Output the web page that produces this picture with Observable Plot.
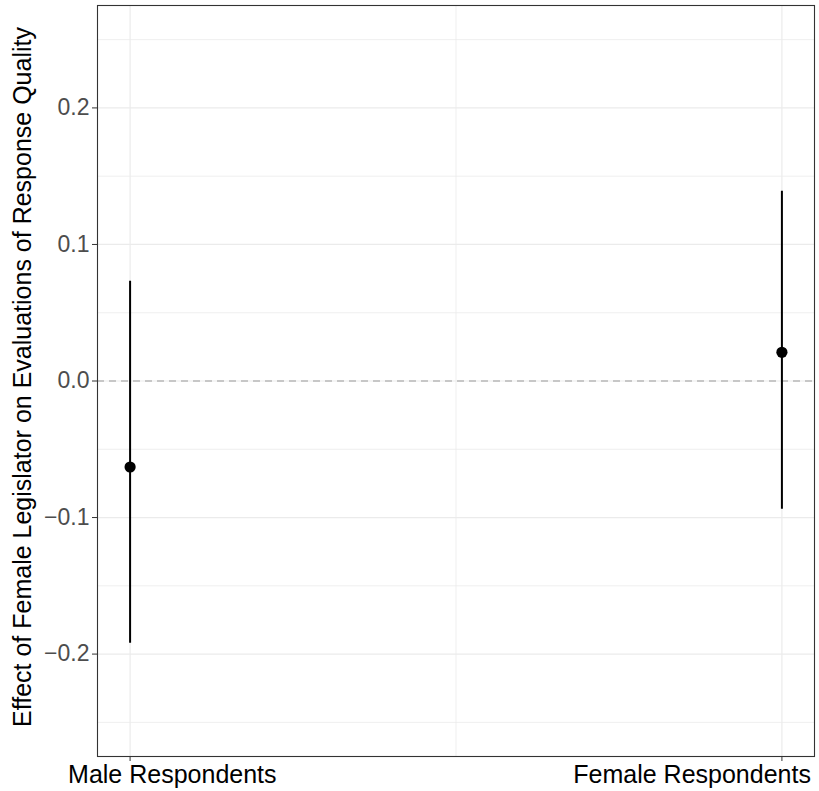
<!DOCTYPE html>
<html>
<head>
<meta charset="utf-8">
<script src="https://cdn.jsdelivr.net/npm/d3@7"></script>
<script src="https://cdn.jsdelivr.net/npm/@observablehq/plot@0.6"></script>
<style>
  html, body { margin: 0; padding: 0; background: #ffffff; }
  #chart { width: 819px; height: 791px; }
</style>
</head>
<body>
<div id="chart"></div>
<script>
const categories = ["Male Respondents", "Female Respondents"];
const estimates = [-0.063, 0.021];
const lowerCI = [-0.192, -0.094];
const upperCI = [0.073, 0.139];
const yTicks = [-0.2, -0.1, 0.0, 0.1, 0.2];
const yMinorTicks = [-0.25, -0.15, -0.05, 0.05, 0.15, 0.25];
const xTicks = [1, 2];
const xMinorTicks = [1.5];
const yTitle = "Effect of Female Legislator on Evaluations of Response Quality";

const data = categories.map((c, i) => ({
  category: c,
  pos: i + 1,
  est: estimates[i],
  lo: lowerCI[i],
  hi: upperCI[i]
}));

const font = "'Liberation Sans', Arial, Helvetica, sans-serif";

const chart = Plot.plot({
  width: 819,
  height: 791,
  marginLeft: 97,
  marginRight: 5,
  marginTop: 5,
  marginBottom: 35,
  style: { fontFamily: font, background: "#ffffff", overflow: "visible" },
  x: { domain: [0.95, 2.05], label: null, axis: null },
  y: { domain: [-0.275, 0.275], label: null, axis: null },
  marks: [
    Plot.ruleY(yMinorTicks, { stroke: "#EBEBEB", strokeWidth: 0.8 }),
    Plot.ruleX(xMinorTicks, { stroke: "#EBEBEB", strokeWidth: 0.8 }),
    Plot.ruleY(yTicks, { stroke: "#EBEBEB", strokeWidth: 1.2 }),
    Plot.ruleX(xTicks, { stroke: "#EBEBEB", strokeWidth: 1.2 }),
    Plot.ruleY([0], { stroke: "#9A9A9A", strokeWidth: 1.2, strokeDasharray: "7,5" }),
    Plot.ruleX(data, { x: "pos", y1: "lo", y2: "hi", stroke: "#000000", strokeWidth: 2 }),
    Plot.dot(data, { x: "pos", y: "est", r: 5.6, fill: "#000000", stroke: "none" }),
    Plot.frame({ stroke: "#333333", strokeWidth: 1.1 }),
    Plot.axisY({
      ticks: yTicks,
      tickFormat: d3.format(".1f"),
      tickSize: 5,
      tickPadding: 3,
      stroke: "#333333",
      fill: "#4D4D4D",
      fontSize: 23,
      label: null
    }),
    Plot.axisX({
      ticks: xTicks,
      tickFormat: () => "",
      tickSize: 5,
      stroke: "#333333",
      label: null
    }),
    Plot.text(data.slice(0, 1), {
      x: "pos",
      text: "category",
      frameAnchor: "bottom",
      lineAnchor: "top",
      textAnchor: "start",
      dx: -62,
      dy: 9,
      fontSize: 25,
      fill: "#000000"
    }),
    Plot.text(data.slice(1), {
      x: "pos",
      text: "category",
      frameAnchor: "bottom",
      lineAnchor: "top",
      textAnchor: "end",
      dx: 29,
      dy: 9,
      fontSize: 25,
      fill: "#000000"
    }),
    Plot.text([yTitle], {
      text: (d) => d,
      frameAnchor: "left",
      dx: -75,
      dy: -4,
      rotate: -90,
      textAnchor: "middle",
      fontSize: 25,
      fill: "#000000"
    })
  ]
});

document.getElementById("chart").appendChild(chart);
</script>
</body>
</html>
